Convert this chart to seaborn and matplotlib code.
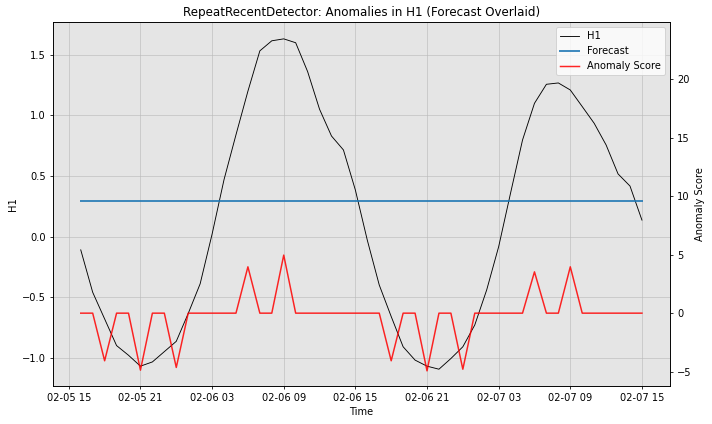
import matplotlib
matplotlib.use("Agg")
import matplotlib.pyplot as plt
import matplotlib.dates as mdates
import seaborn as sns
import pandas as pd
import numpy as np

times = pd.date_range("2024-02-05 16:00", periods=48, freq="h")

h1 = [-0.11, -0.46, -0.68, -0.90, -0.98, -1.07, -1.035, -0.95, -0.865, -0.635,
      -0.39, 0.02, 0.47, 0.84, 1.20, 1.533, 1.616, 1.632, 1.60, 1.362,
      1.051, 0.83, 0.715, 0.384, -0.03, -0.40, -0.66, -0.91, -1.02, -1.07,
      -1.095, -1.007, -0.91, -0.73, -0.44, -0.084, 0.36, 0.797, 1.10, 1.257,
      1.268, 1.21, 1.073, 0.935, 0.756, 0.517, 0.417, 0.136]

forecast_value = 0.293
forecast = [forecast_value] * 48

anomaly = [0, 0, -4.07, 0, 0, -4.87, 0, 0, -4.64, 0,
           0, 0, 0, 0, 3.96, 0, 0, 4.96, 0, 0,
           0, 0, 0, 0, 0, 0, -4.07, 0, 0, -4.93,
           0, 0, -4.79, 0, 0, 0, 0, 0, 3.53, 0,
           0, 3.96, 0, 0, 0, 0, 0, 0]

df = pd.DataFrame({"Time": times, "H1": h1, "Forecast": forecast, "Anomaly": anomaly})

plt.rcParams["font.family"] = ["DejaVu Sans"]
plt.rcParams["font.size"] = 10

fig = plt.figure(figsize=(10, 424 / 71.2), dpi=71.2)
ax = fig.add_axes([0.074, 0.0903, 0.867, 0.857])
ax.set_facecolor("#e5e5e5")

sns.lineplot(data=df, x="Time", y="H1", ax=ax, color="black", linewidth=0.9, label="H1")
sns.lineplot(data=df, x="Time", y="Forecast", ax=ax, color="#1f77b4", linewidth=2,
             alpha=0.85, label="Forecast")
ax.grid(True, color="#b8b8b8", linewidth=0.8, alpha=0.7)
ax.set_axisbelow(True)

ax2 = ax.twinx()
sns.lineplot(data=df, x="Time", y="Anomaly", ax=ax2, color="red", linewidth=1.5,
             alpha=0.85, label="Anomaly Score")
ax2.set_ylim(-6.2, 24.85)
ax2.set_ylabel("Anomaly Score")
ax2.grid(False)

ax.xaxis.set_major_locator(mdates.HourLocator(byhour=[3, 9, 15, 21]))
ax.xaxis.set_major_formatter(mdates.DateFormatter("%m-%d %H"))
ax.set_xlabel("Time")
ax.set_ylabel("H1")
ax.set_title("RepeatRecentDetector: Anomalies in H1 (Forecast Overlaid)")

h_a, l_a = ax.get_legend_handles_labels()
h_b, l_b = ax2.get_legend_handles_labels()
if ax.get_legend() is not None:
    ax.get_legend().remove()
if ax2.get_legend() is not None:
    ax2.get_legend().remove()
ax2.legend(h_a + h_b, l_a + l_b, loc="upper right")

fig.savefig("out.png", dpi=71.2)
